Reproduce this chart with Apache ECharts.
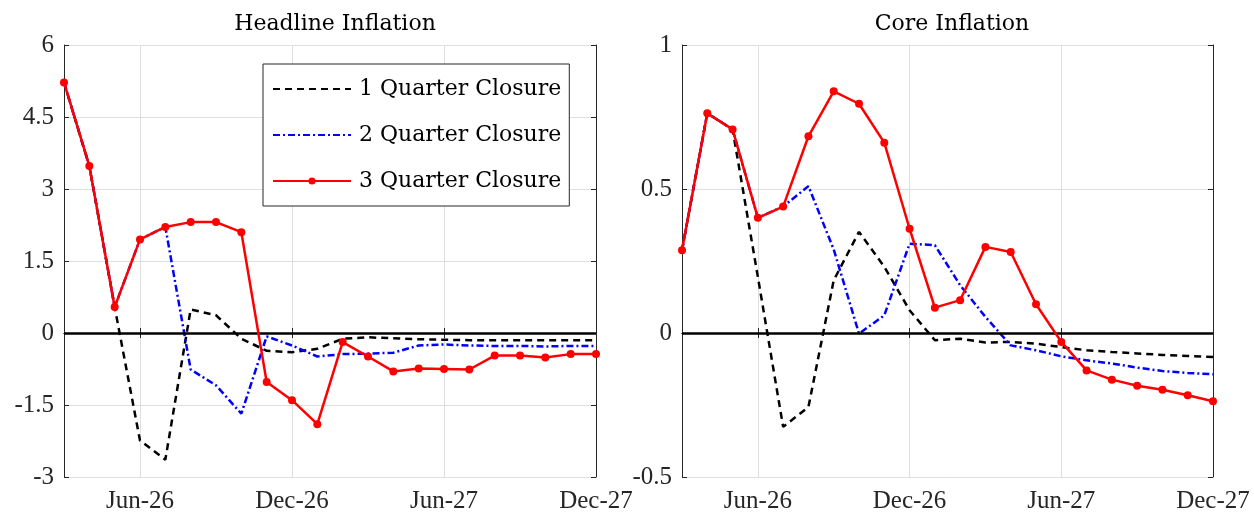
<!DOCTYPE html>
<html><head><meta charset="utf-8">
<script src="https://cdn.jsdelivr.net/npm/echarts@6/dist/echarts.min.js"></script>
<style>html,body{margin:0;padding:0;background:#fff}#c{width:1254px;height:514px}</style>
</head><body><div id="c"></div>
<script>
const months = ['Mar-26','Apr-26','May-26','Jun-26','Jul-26','Aug-26','Sep-26','Oct-26','Nov-26','Dec-26','Jan-27',
  'Feb-27','Mar-27','Apr-27','May-27','Jun-27','Jul-27','Aug-27','Sep-27','Oct-27','Nov-27','Dec-27'];
const seriesNames = ['1 Quarter Closure','2 Quarter Closure','3 Quarter Closure'];
const titles = ['Headline Inflation','Core Inflation'];
const headline1Q = [5.22,3.48,0.54,-2.24,-2.64,0.49,0.37,-0.12,-0.37,-0.40,-0.33,-0.12,-0.09,-0.11,-0.13,-0.14,-0.15,-0.15,-0.15,-0.15,-0.15,-0.15];
const headline2Q = [5.22,3.48,0.54,1.95,2.21,-0.76,-1.09,-1.68,-0.07,-0.26,-0.49,-0.44,-0.43,-0.41,-0.26,-0.24,-0.26,-0.27,-0.27,-0.28,-0.27,-0.27];
const headline3Q = [5.22,3.48,0.54,1.95,2.21,2.31,2.31,2.10,-1.02,-1.40,-1.90,-0.19,-0.49,-0.80,-0.74,-0.75,-0.76,-0.47,-0.47,-0.51,-0.44,-0.44];
const core1Q = [0.287,0.763,0.707,0.195,-0.326,-0.257,0.183,0.351,0.230,0.079,-0.025,-0.020,-0.033,-0.031,-0.037,-0.049,-0.060,-0.066,-0.071,-0.076,-0.080,-0.083];
const core2Q = [0.287,0.763,0.707,0.400,0.439,0.510,0.290,-0.002,0.061,0.310,0.305,0.166,0.056,-0.043,-0.060,-0.081,-0.095,-0.106,-0.120,-0.132,-0.139,-0.143];
const core3Q = [0.287,0.763,0.707,0.400,0.439,0.683,0.839,0.796,0.661,0.362,0.088,0.114,0.299,0.281,0.100,-0.031,-0.130,-0.162,-0.183,-0.197,-0.216,-0.237];
const headlineTicks = {min:-3, max:6, interval:1.5};
const coreTicks = {min:-0.5, max:1, interval:0.5};

const axisColor = '#262626';
const tickFont = {fontFamily:'Liberation Serif', fontSize:25, color:axisColor};
const showIdx = (i) => i % 6 === 3;

function xAxes(gi) {
  return [
    {type:'category', gridIndex:gi, data:months, boundaryGap:false, position:'bottom',
     axisLine:{lineStyle:{color:axisColor,width:1}},
     axisTick:{inside:true, length:5, interval:showIdx, lineStyle:{color:axisColor}},
     axisLabel:{interval:showIdx, margin:12, ...tickFont},
     splitLine:{show:true, interval:showIdx, lineStyle:{color:'#dedede', width:1}}},
    {type:'category', gridIndex:gi, data:months, boundaryGap:false, position:'top',
     axisLine:{lineStyle:{color:axisColor,width:1}},
     axisTick:{inside:true, length:5, interval:showIdx, lineStyle:{color:axisColor}},
     axisLabel:{show:false}, splitLine:{show:false}}
  ];
}
function yAxes(gi, t) {
  return [
    {type:'value', gridIndex:gi, position:'left', min:t.min, max:t.max, interval:t.interval,
     axisLine:{show:true, lineStyle:{color:axisColor,width:1}},
     axisTick:{show:true, inside:true, length:5, lineStyle:{color:axisColor}},
     axisLabel:{margin:10, ...tickFont},
     splitLine:{show:true, lineStyle:{color:'#dedede', width:1}}},
    {type:'value', gridIndex:gi, position:'right', min:t.min, max:t.max, interval:t.interval,
     axisLine:{show:true, lineStyle:{color:axisColor,width:1}},
     axisTick:{show:true, inside:true, length:5, lineStyle:{color:axisColor}},
     axisLabel:{show:false}, splitLine:{show:false}}
  ];
}
function mkSeries(gi, d1, d2, d3) {
  const xi = gi*2, yi = gi*2;
  return [
    {name:seriesNames[0], type:'line', xAxisIndex:xi, yAxisIndex:yi, data:d1, symbol:'none',
     lineStyle:{color:'#000', width:2.5, type:[7,5]}, itemStyle:{color:'#000'}, z:3,
     markLine:{silent:true, symbol:'none', label:{show:false}, data:[{yAxis:0}],
       lineStyle:{color:'#000', width:2.5, type:'solid'}, animation:false}},
    {name:seriesNames[1], type:'line', xAxisIndex:xi, yAxisIndex:yi, data:d2, symbol:'none',
     lineStyle:{color:'#0000ff', width:2.5, type:[7,3,2,3]}, itemStyle:{color:'#0000ff'}, z:4},
    {name:seriesNames[2], type:'line', xAxisIndex:xi, yAxisIndex:yi, data:d3, symbol:'circle', symbolSize:8,
     lineStyle:{color:'#ff0000', width:2.5}, itemStyle:{color:'#ff0000'}, z:5}
  ];
}

const chart = echarts.init(document.getElementById('c'), null, {renderer:'canvas'});
chart.setOption({
  animation:false,
  backgroundColor:'#fff',
  title:[
    {text:titles[0], left:330, top:8, textAlign:'center', textStyle:{fontFamily:'DejaVu Serif', fontSize:22, fontWeight:'normal', color:'#000'}},
    {text:titles[1], left:947, top:8, textAlign:'center', textStyle:{fontFamily:'DejaVu Serif', fontSize:22, fontWeight:'normal', color:'#000'}}
  ],
  legend:{
    data:[
      {name:seriesNames[0], itemStyle:{opacity:0}},
      {name:seriesNames[1], itemStyle:{opacity:0}},
      {name:seriesNames[2]}
    ],
    orient:'vertical', left:263, top:64,
    itemWidth:78, itemHeight:9, itemGap:24,
    padding:[14,8,14,9],
    backgroundColor:'#fff', borderColor:'#262626', borderWidth:1, borderRadius:0,
    textStyle:{fontFamily:'DejaVu Serif', fontSize:22, color:'#000', padding:[0,0,0,3]}
  },
  grid:[
    {left:64, top:45, width:532, height:432, containLabel:false},
    {left:682, top:45, width:531, height:432, containLabel:false}
  ],
  xAxis:[...xAxes(0), ...xAxes(1)],
  yAxis:[...yAxes(0, headlineTicks), ...yAxes(1, coreTicks)],
  series:[...mkSeries(0, headline1Q, headline2Q, headline3Q), ...mkSeries(1, core1Q, core2Q, core3Q)]
});
</script></body></html>
